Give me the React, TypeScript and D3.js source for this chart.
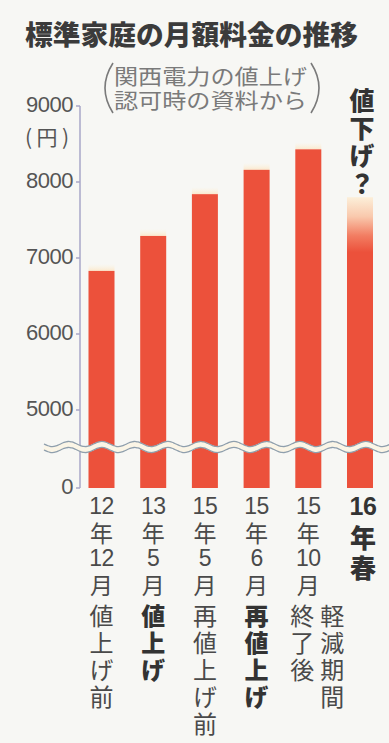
import React from "react";
import * as d3 from "d3";

const categories = ["12年12月", "13年5月", "15年5月", "15年6月", "15年10月", "16年春"];
const values = [6830, 7290, 7840, 8160, 8430, 7800];
const dateLines = [
  ["12", "年", "12", "月"],
  ["13", "年", "5", "月"],
  ["15", "年", "5", "月"],
  ["15", "年", "6", "月"],
  ["15", "年", "10", "月"],
  ["16", "年", "春"],
];
const notes = [["値上げ前"], ["値上げ"], ["再値上げ前"], ["再値上げ"], ["軽減期間", "終了後"], []];
const boldNotes = [false, true, false, true, false, false];
const yTicks = [0, 5000, 6000, 7000, 8000, 9000];
const title = "標準家庭の月額料金の推移";
const subtitle = ["関西電力の値上げ", "認可時の資料から"];
const unitLabel = "(円)";
const forecast = "値下げ？";

const W = 389;
const H = 743;
const BAR = "#ec513b";
const CJK = "'Noto Sans CJK JP', sans-serif";
const LAT = "'Liberation Sans', Arial, sans-serif";

export default function App() {
  const x = d3.scalePoint<string>().domain(categories).range([101.5, 360]);
  const y = d3.scaleLinear().domain([0, 4500, 9000]).range([488, 448, 106]);
  const bw = 26;
  const breakY = y(4500) - 1;

  const wavePts = d3.range(44, 392, 2).map((px) => [px, breakY + 2.6 * Math.sin(((px - 44) / 33) * 2 * Math.PI)] as [number, number]);
  const wave = d3.line().curve(d3.curveBasis)(wavePts) || "";

  const last = categories.length - 1;
  const lastTop = y(values[last]);

  return (
    <svg width={W} height={H} style={{ position: "absolute", left: 0, top: 0, background: "#f7f7f4" }}>
      <defs>
        <linearGradient id="fade" gradientUnits="userSpaceOnUse" x1="0" y1={lastTop} x2="0" y2={lastTop + 55}>
          <stop offset="0" stopColor="#fcefd9" />
          <stop offset="0.35" stopColor="#f9c9ad" />
          <stop offset="0.7" stopColor="#f27d62" />
          <stop offset="1" stopColor={BAR} />
        </linearGradient>
        <linearGradient id="cap" x1="0" y1="0" x2="0" y2="1">
          <stop offset="0" stopColor="#fdf3dc" stopOpacity="0" />
          <stop offset="1" stopColor="#fbe6c8" stopOpacity="0.9" />
        </linearGradient>
      </defs>
      <rect x={0} y={0} width={W} height={H} fill="#f7f7f4" />

      {/* Title */}
      <text x={25} y={45} fontFamily={CJK} fontWeight={900} fontSize={27} fill="#3b3b3b" textLength={333} lengthAdjust="spacingAndGlyphs">
        {title}
      </text>

      {/* Subtitle */}
      <text fontFamily={CJK} fontSize={21} fill="#7a7a7a">
        {subtitle.map((s, i) => (
          <tspan key={i} x={114} y={84 + i * 24} textLength={193} lengthAdjust="spacingAndGlyphs">
            {s}
          </tspan>
        ))}
      </text>
      <path d="M113,63 Q97,88 113,113" fill="none" stroke="#7a7a7a" strokeWidth={1.6} />
      <path d="M311,63 Q327,88 311,113" fill="none" stroke="#7a7a7a" strokeWidth={1.6} />

      {/* Axis */}
      <line x1={80} x2={80} y1={y(9000)} y2={y(0)} stroke="#a9a7c8" strokeWidth={1.5} />
      {yTicks.map((t) => (
        <g key={t}>
          <line x1={76} x2={80} y1={y(t)} y2={y(t)} stroke="#a9a7c8" strokeWidth={1.5} />
          <text x={73} y={y(t) - 2} textAnchor="end" dominantBaseline="central" fontFamily={LAT} fontSize={22} fill="#555" letterSpacing={-0.5}>
            {t}
          </text>
        </g>
      ))}
      <text x={47} y={136} textAnchor="middle" dominantBaseline="central" fontFamily={CJK} fontSize={21} fill="#555" textLength={44} lengthAdjust="spacing">
        {unitLabel}
      </text>

      {/* Bars */}
      {categories.map((c, i) => {
        const cx = x(c)!;
        const top = y(values[i]);
        return (
          <g key={c}>
            {i !== last && <rect x={cx - bw / 2} y={top - 7} width={bw} height={7} fill="url(#cap)" />}
            <rect x={cx - bw / 2} y={top} width={bw} height={y(0) - top} fill={i === last ? "url(#fade)" : BAR} />
          </g>
        );
      })}

      {/* Break */}
      <path d={wave} fill="none" stroke="#fbf5e6" strokeWidth={6} />
      <path d={wave} transform="translate(0,-3)" fill="none" stroke="#8f9fad" strokeWidth={1.3} />
      <path d={wave} transform="translate(0,3)" fill="none" stroke="#8f9fad" strokeWidth={1.3} />

      {/* Forecast label (vertical) */}
      <text
        x={x(categories[last])! + 2}
        y={88}
        style={{ writingMode: "vertical-rl" }}
        fontFamily={CJK}
        fontWeight={900}
        fontSize={25}
        letterSpacing={2.5}
        fill="#333"
      >
        {forecast}
      </text>

      {/* X labels */}
      {categories.map((c, i) => {
        const cx = x(c)!;
        const isLast = i === last;
        const step = isLast ? 30 : 26;
        return (
          <g key={c}>
            <text
              textAnchor="middle"
              dominantBaseline="central"
              fontWeight={isLast ? 900 : 400}
              fill={isLast ? "#333" : "#4a4a4a"}
            >
              {dateLines[i].map((t, j) => {
                const num = /^[0-9]+$/.test(t);
                return (
                  <tspan
                    key={j}
                    x={cx + (isLast ? 3 : 0)}
                    y={506 + j * step}
                    fontFamily={num ? LAT : CJK}
                    fontSize={num ? (isLast ? 25 : 23) : isLast ? 26 : 23}
                    letterSpacing={num ? -0.5 : 0}
                  >
                    {t}
                  </tspan>
                );
              })}
            </text>
            {notes[i].map((col, k) => {
              const colX = notes[i].length > 1 ? (k === 0 ? cx + 24 : cx - 6) : cx;
              return (
                <text
                  key={k}
                  x={colX}
                  y={604}
                  style={{ writingMode: "vertical-rl" }}
                  fontFamily={CJK}
                  fontWeight={boldNotes[i] ? 900 : 400}
                  fontSize={24}
                  letterSpacing={3}
                  fill={boldNotes[i] ? "#333" : "#4a4a4a"}
                >
                  {col}
                </text>
              );
            })}
          </g>
        );
      })}
    </svg>
  );
}
